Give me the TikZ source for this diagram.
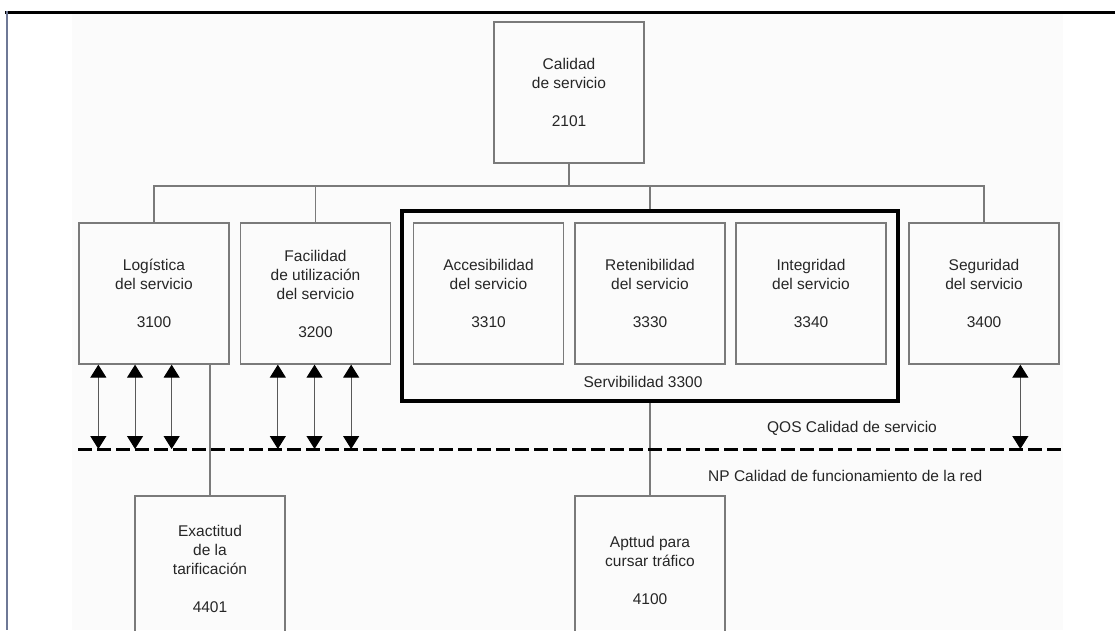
\documentclass[tikz,border=0pt]{standalone}
\usepackage{fontspec}
\setmainfont{Liberation Sans}
\usetikzlibrary{arrows.meta,calc}
\definecolor{boxgray}{HTML}{7A7A7A}
\definecolor{leftc}{RGB}{110,120,150}
\begin{document}
\begin{tikzpicture}[x=1pt,y=-1pt,
  box/.style={draw=boxgray, line width=1.3pt, minimum width=150pt, minimum height=141pt,
    inner sep=0pt, align=center, font=\fontsize{15.5}{19}\selectfont, text=black!85},
  servbox/.style={draw=black, line width=4pt, minimum width=496pt, minimum height=190pt, inner sep=0pt},
  lbl/.style={font=\fontsize{15.5}{19}\selectfont, text=black!85, inner sep=0pt},
  conn/.style={draw=boxgray, line width=1.2pt},
  dashline/.style={draw=black, line width=3pt, dash pattern=on 14pt off 5pt},
  biarrow/.style={draw=black!65, line width=1.1pt,
    {Triangle[width=16pt,length=13pt,color=black]}-{Triangle[width=16pt,length=13pt,color=black]}}]
\useasboundingbox (0,0) rectangle (1115,630);
\fill[black!1.5] (72,14) rectangle (1063,630);
\draw[line width=3pt] (5,12.5) -- (1115,12.5);
\draw[leftc, line width=2.5pt] (7,11) -- (7,630);

\node[box] (q) at (569,92.5) {Calidad\\de servicio\\[19pt]2101};
\node[box] (log) at (154,293.5) {Logística\\del servicio\\[19pt]3100};
\node[box] (fac) at (315.5,293.5) {Facilidad\\de utilización\\del servicio\\[19pt]3200};
\node[box] (acc) at (488.5,293.5) {Accesibilidad\\del servicio\\[19pt]3310};
\node[box] (ret) at (650,293.5) {Retenibilidad\\del servicio\\[19pt]3330};
\node[box] (int) at (811,293.5) {Integridad\\del servicio\\[19pt]3340};
\node[box] (seg) at (984,293.5) {Seguridad\\del servicio\\[19pt]3400};
\node[servbox] (serv) at (650,306) {};
\node[lbl] (servl) at (643,382) {Servibilidad 3300};
\node[box, minimum height=146pt] (exa) at (210,569) {Exactitud\\de la\\tarificación\\[19pt]4401};
\node[box, minimum height=148pt] (apt) at (650,570) {Apttud para\\cursar tráfico\\[19pt]4100};

\node[lbl] (qos) at (852,428) {QOS Calidad de servicio};
\node[lbl, anchor=west] (np) at (708,476) {NP Calidad de funcionamiento de la red};

% tree connectors
\coordinate (busL) at (154,186);
\draw[conn] (log.north) -- (log.north |- busL) -| (seg.north);
\draw[conn] (q.south) -- (q.south |- busL);
\draw[conn] (fac.north) -- (fac.north |- busL);
\draw[conn] (serv.north) -- (serv.north |- busL);
\draw[conn] (exa.north) -- (exa.north |- log.south);
\draw[conn] (serv.south) -- (apt.north);

% QOS / NP boundary
\coordinate (dl) at (78,449);
\coordinate (dr) at (1062,449);
\draw[dashline] (dl) -- (dr);

% arrows
\foreach \i/\dx in {1/20,2/56.7,3/93.3}{
  \coordinate (la\i) at ([xshift=\dx pt]log.south west);
  \draw[biarrow] (la\i) -- (la\i |- dl);
}
\foreach \i/\dx in {1/38,2/74.7,3/111.3}{
  \coordinate (fa\i) at ([xshift=\dx pt]fac.south west);
  \draw[biarrow] (fa\i) -- (fa\i |- dl);
}
\coordinate (sa) at ([xshift=112pt]seg.south west);
\draw[biarrow] (sa) -- (sa |- dl);
\end{tikzpicture}
\end{document}
